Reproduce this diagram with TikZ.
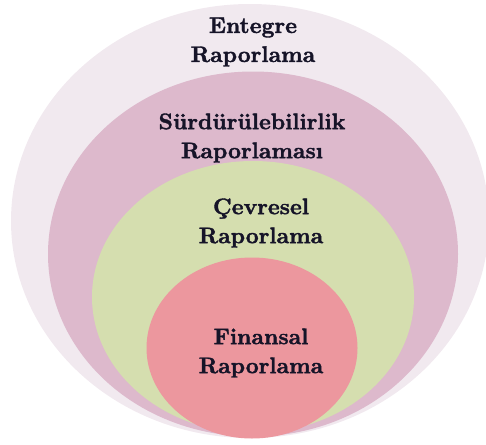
\documentclass[tikz,border=0pt]{standalone}
\usepackage{fontspec}
\newfontfamily\heavyfont{lmroman10-bold}[Extension=.otf, FakeBold=1.6]
\usetikzlibrary{shapes.geometric}
\definecolor{outerc}{RGB}{241,233,239}
\definecolor{mauvec}{RGB}{221,185,204}
\definecolor{greenc}{RGB}{213,222,175}
\definecolor{pinkc}{RGB}{236,151,158}
\definecolor{textc}{RGB}{22,20,40}
\tikzset{
  ring/.style={ellipse, draw=none, inner sep=0pt, outer sep=0pt},
  label/.style={text=textc, font=\heavyfont\fontsize{22.5pt}{29pt}\selectfont, align=center, inner sep=0pt}
}
\begin{document}
\begin{tikzpicture}[x=1pt,y=-1pt]
\useasboundingbox (0,0) rectangle (486,444);
\node[ring, fill=outerc, minimum width=478pt, minimum height=434pt] (outer) at (250,221) {};
\node[ring, fill=mauvec, minimum width=410pt, minimum height=365pt] (sust) at (253,254) {};
\node[ring, fill=greenc, minimum width=322pt, minimum height=272pt] (env) at (253,297) {};
\node[ring, fill=pinkc, minimum width=211pt, minimum height=181pt] (fin) at (252,348) {};
\node[label] (touter) at (253,42) {Entegre\\Raporlama};
\node[label] (tsust) at (252,138) {Sürdürülebilirlik\\Raporlaması};
\node[label] (tenv) at (261,223) {Çevresel\\Raporlama};
\node[label] (tfin) at (261,353) {Finansal\\Raporlama};
\end{tikzpicture}
\end{document}
